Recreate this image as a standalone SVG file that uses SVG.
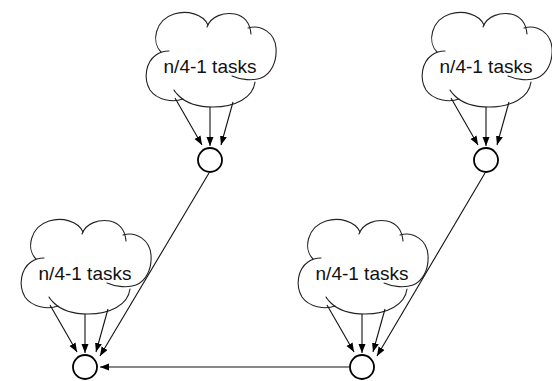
<svg xmlns="http://www.w3.org/2000/svg" width="552" height="381" viewBox="0 0 552 381">
<style>
.cloud{fill:none;stroke:#222;stroke-width:1.1;stroke-linecap:round}
.lbl{font-family:"Liberation Sans",Arial,Helvetica,sans-serif;font-size:19px;fill:#111;text-anchor:middle}
.node{fill:#fff;stroke:#000;stroke-width:1.8}
.edge{fill:none;stroke:#111;stroke-width:1.1}
</style>
<defs>
<marker id="ah" markerUnits="userSpaceOnUse" markerWidth="10" markerHeight="8" refX="9" refY="3.5" orient="auto">
<path d="M0,0 L9,3.5 L0,7 Z" fill="#000"/>
</marker>
<g id="cloud" class="cloud">
<path d="M14,40 C4,30 8,8 27,2 C40,-2 56,2 61,13"/>
<path d="M60,15 C64,4 77,0 88,2 C97,4 103,11 104,22"/>
<path d="M101,16 C114,12 128,21 129,36 C130,50 124,62 114,66 C106,69 94,68 85,64"/>
<path d="M108,70 C106,86 88,95 66,95 C50,95 38,90 32,84 C30,82 28,80 27,78"/>
<path d="M36,87 C26,91 10,88 3,78 C-4,66 -1,50 9,43 C13,40 18,39 22,39"/>
</g>
</defs>
<rect width="552" height="381" fill="#fff"/>

<g id="cloud-tl"><use href="#cloud" transform="translate(147,12)"/><text class="lbl" x="210" y="73">n/4-1 tasks</text></g>
<g id="cloud-tr"><use href="#cloud" transform="translate(423,12)"/><text class="lbl" x="486" y="73">n/4-1 tasks</text></g>
<g id="cloud-bl"><use href="#cloud" transform="translate(22,219)"/><text class="lbl" x="85" y="280">n/4-1 tasks</text></g>
<g id="cloud-br"><use href="#cloud" transform="translate(299,219)"/><text class="lbl" x="362" y="280">n/4-1 tasks</text></g>

<g id="connectors" class="edge" marker-end="url(#ah)">
<line x1="175" y1="98" x2="202" y2="145"/>
<line x1="210" y1="107" x2="210" y2="146"/>
<line x1="233" y1="102" x2="221" y2="145"/>
<line x1="451" y1="98" x2="478" y2="145"/>
<line x1="486" y1="107" x2="486" y2="146"/>
<line x1="509" y1="102" x2="497" y2="145"/>
<line x1="50" y1="305" x2="77" y2="352"/>
<line x1="85" y1="314" x2="85" y2="353"/>
<line x1="108" y1="309" x2="96" y2="352"/>
<line x1="327" y1="305" x2="354" y2="352"/>
<line x1="362" y1="314" x2="362" y2="353"/>
<line x1="385" y1="309" x2="373" y2="352"/>
<line x1="209" y1="173" x2="100" y2="356"/>
<line x1="485" y1="173" x2="377" y2="356"/>
<line x1="349" y1="367" x2="100" y2="367"/>
</g>

<g id="node-tl"><circle class="node" cx="210" cy="160" r="12"/></g>
<g id="node-tr"><circle class="node" cx="486" cy="160" r="12"/></g>
<g id="node-bl"><circle class="node" cx="85" cy="367" r="12"/></g>
<g id="node-br"><circle class="node" cx="362" cy="367" r="12"/></g>
</svg>
